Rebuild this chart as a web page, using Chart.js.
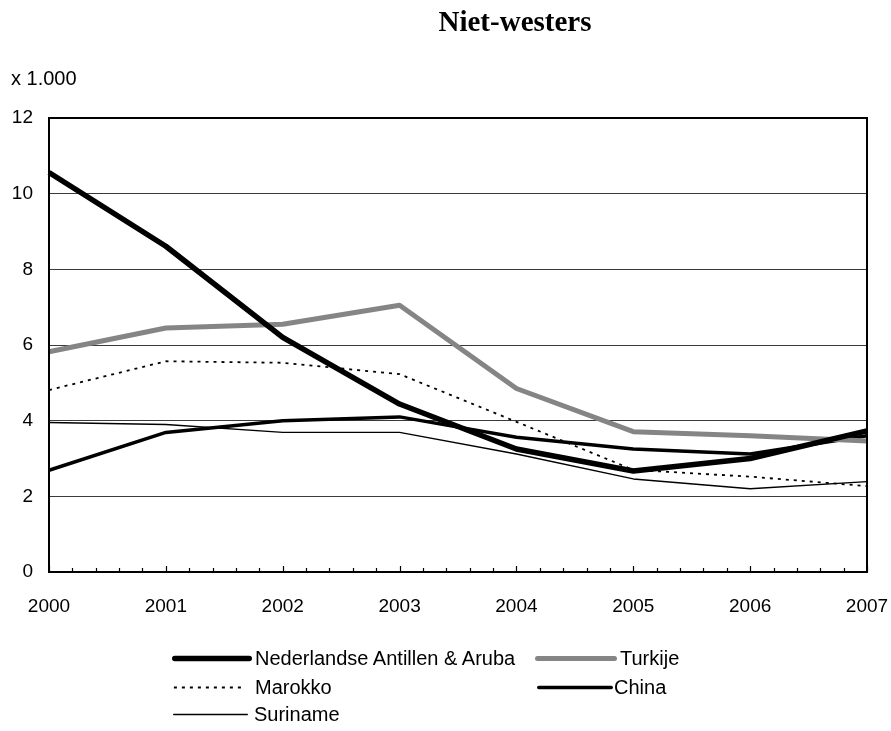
<!DOCTYPE html>
<html>
<head>
<meta charset="utf-8">
<script src="https://cdn.jsdelivr.net/npm/chart.js@4.4.0/dist/chart.umd.min.js"></script>
<style>
  body { margin: 0; background: #fff; }
  #wrap { position: relative; width: 891px; height: 731px; font-family: "Liberation Sans", Arial, sans-serif; }
  #title { position: absolute; left: 415px; width: 200px; top: 7px; text-align: center;
           font: bold 29px/29px "Liberation Serif", serif; color: #000; white-space: nowrap; }
  #unit { position: absolute; left: 11px; top: 68px; font-size: 20px; line-height: 20px; color: #000; }
  .lg { position: absolute; height: 22px; font-size: 20px; line-height: 22px; color: #000; white-space: nowrap; }
  .lg svg { position: absolute; top: 0; }
  .lg span { position: absolute; top: 0; }
  canvas { position: absolute; left: 0; top: 0; }
</style>
</head>
<body>
<div id="wrap">
  <canvas id="chart" width="891" height="731"></canvas>
  <div id="title">Niet-westers</div>
  <div id="unit">x 1.000</div>
</div>
<script>
// Values (x 1.000)
const years = ['2000', '2001', '2002', '2003', '2004', '2005', '2006', '2007'];
const antillen = [10.56, 8.61, 6.2, 4.44, 3.25, 2.67, 3.0, 3.73];
const turkije = [5.82, 6.45, 6.55, 7.05, 4.85, 3.71, 3.6, 3.46];
const marokko = [4.81, 5.57, 5.53, 5.23, 3.97, 2.7, 2.52, 2.27];
const china = [2.69, 3.69, 4.0, 4.1, 3.56, 3.25, 3.12, 3.6];
const suriname = [3.95, 3.9, 3.69, 3.69, 3.12, 2.46, 2.2, 2.39];
const yTicks = [0, 2, 4, 6, 8, 10, 12];

const font = "'Liberation Sans', Arial, sans-serif";

const datasets = [
  { label: 'Nederlandse Antillen & Aruba', data: antillen, borderColor: '#000', borderWidth: 5.5 },
  { label: 'Turkije', data: turkije, borderColor: '#858585', borderWidth: 5 },
  { label: 'Marokko', data: marokko, borderColor: '#000', borderWidth: 1.8, borderDash: [3, 5] },
  { label: 'China', data: china, borderColor: '#000', borderWidth: 3.5 },
  { label: 'Suriname', data: suriname, borderColor: '#000', borderWidth: 1.4 }
].map(d => Object.assign(d, {
  pointRadius: 0, tension: 0, fill: false,
  borderJoinStyle: 'round', borderCapStyle: 'butt'
}));

// frame around the plot plus the small inward ticks on the x axis
const framePlugin = {
  id: 'frame',
  afterDatasetsDraw(chart) {
    const { ctx, chartArea: a, scales } = chart;
    ctx.save();
    ctx.strokeStyle = '#000';
    ctx.lineWidth = 1.2;
    for (let i = 0; i <= (years.length - 1) * 5; i++) {
      const x = Math.round(scales.x.getPixelForValue(i / 5)) + 0.5;
      const len = i % 5 === 0 ? 6 : 4;
      ctx.beginPath();
      ctx.moveTo(x, a.bottom);
      ctx.lineTo(x, a.bottom - len);
      ctx.stroke();
    }
    ctx.lineWidth = 2;
    ctx.strokeRect(a.left, a.top, a.right - a.left, a.bottom - a.top);
    ctx.restore();
  }
};

const chart = new Chart(document.getElementById('chart'), {
  type: 'line',
  data: { labels: years, datasets: datasets },
  options: {
    responsive: false,
    animation: false,
    devicePixelRatio: 1,
    layout: { padding: { left: 0, top: 118, right: 24, bottom: 0 } },
    plugins: { legend: { display: false }, title: { display: false }, tooltip: { enabled: false } },
    scales: {
      x: {
        type: 'category',
        offset: false,
        afterFit: s => { s.height = 731 - 572; s.paddingLeft = 0; s.paddingRight = 0; },
        grid: { display: false },
        border: { display: false },
        ticks: { color: '#000', font: { family: font, size: 19 }, padding: 15, maxRotation: 0, autoSkip: false }
      },
      y: {
        min: 0, max: 12,
        afterFit: s => { s.width = 49; },
        afterBuildTicks: s => { s.ticks = yTicks.map(v => ({ value: v })); },
        grid: { color: '#3a3a3a', lineWidth: 1, drawTicks: false },
        border: { display: false },
        ticks: { color: '#000', font: { family: font, size: 19 }, padding: 16 }
      }
    }
  },
  plugins: [framePlugin]
});

// legend laid out as a two-column grid, like the original
const legendSpots = [
  { x: 172, y: 647, w: 80, tx: 255 },
  { x: 535, y: 647, w: 82, tx: 620 },
  { x: 173, y: 676, w: 70, tx: 255 },
  { x: 537, y: 676, w: 76, tx: 614 },
  { x: 173, y: 703, w: 75, tx: 254 }
];
const wrap = document.getElementById('wrap');
chart.data.datasets.forEach((ds, i) => {
  const p = legendSpots[i];
  const el = document.createElement('div');
  el.className = 'lg';
  el.style.left = '0px';
  el.style.top = p.y + 'px';
  const dash = ds.borderDash ? ` stroke-dasharray="${ds.borderDash.join(' ')}"` : '';
  const cap = ds.borderDash ? 'butt' : 'round';
  el.innerHTML =
    `<svg style="left:${p.x}px" width="${p.w}" height="22"><line x1="${ds.borderWidth / 2}" y1="11.5" x2="${p.w - ds.borderWidth / 2}" y2="11.5" stroke="${ds.borderColor}" stroke-width="${ds.borderWidth}" stroke-linecap="${cap}"${dash}/></svg>` +
    `<span style="left:${p.tx}px">${ds.label.replace('&', '&amp;')}</span>`;
  wrap.appendChild(el);
});
</script>
</body>
</html>
